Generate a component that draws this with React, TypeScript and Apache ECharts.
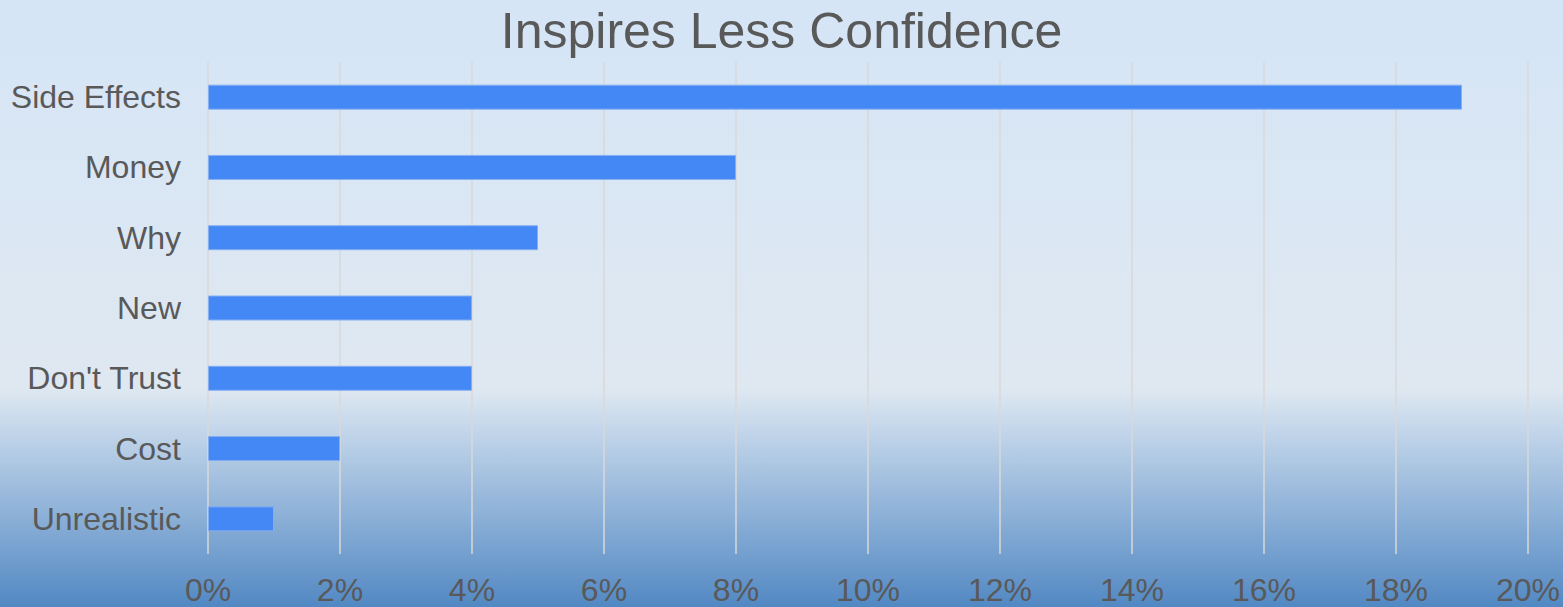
import React, { useEffect, useRef } from "react";
import * as echarts from "echarts";

const categories = ["Side Effects", "Money", "Why", "New", "Don't Trust", "Cost", "Unrealistic"];
const values = [19, 8, 5, 4, 4, 2, 1];
const titleText = "Inspires Less Confidence";

export default function App() {
  const ref = useRef<HTMLDivElement>(null);
  useEffect(() => {
    if (!ref.current) return;
    const chart = echarts.init(ref.current, null, { renderer: "svg" });
    const font = "'Liberation Sans', Arial, sans-serif";
    chart.setOption({
      animation: false,
      backgroundColor: new echarts.graphic.LinearGradient(0, 0, 0, 1, [
        { offset: 0, color: "#d5e5f6" },
        { offset: 0.64, color: "#dfe8f1" },
        { offset: 0.7, color: "#c6d8eb" },
        { offset: 1, color: "#5288c3" },
      ]),
      title: {
        text: titleText,
        left: "center",
        top: 1,
        textStyle: { fontSize: 50, fontWeight: "normal", color: "#595959", fontFamily: font },
      },
      grid: { left: 208, right: 35, top: 62, bottom: 53, containLabel: false },
      xAxis: {
        type: "value",
        min: 0,
        max: 20,
        interval: 2,
        axisLine: { show: false },
        axisTick: { show: false },
        axisLabel: {
          formatter: "{value}%",
          fontSize: 32,
          color: "#595959",
          fontFamily: font,
          margin: 20,
        },
        splitLine: { show: true, lineStyle: { color: "#d9d9d9", width: 1.5 } },
      },
      yAxis: {
        type: "category",
        data: categories,
        inverse: true,
        axisLine: { show: false },
        axisTick: { show: false },
        axisLabel: { fontSize: 32, color: "#595959", fontFamily: font, margin: 27 },
        splitLine: { show: false },
      },
      series: [
        {
          type: "bar",
          data: values,
          barWidth: 25,
          itemStyle: { color: "#4488f5", borderColor: "#86aef0", borderWidth: 1 },
        },
      ],
    });
    return () => chart.dispose();
  }, []);
  return (
    <div
      ref={ref}
      style={{ position: "fixed", left: 0, top: 0, width: 1563, height: 607 }}
    />
  );
}
